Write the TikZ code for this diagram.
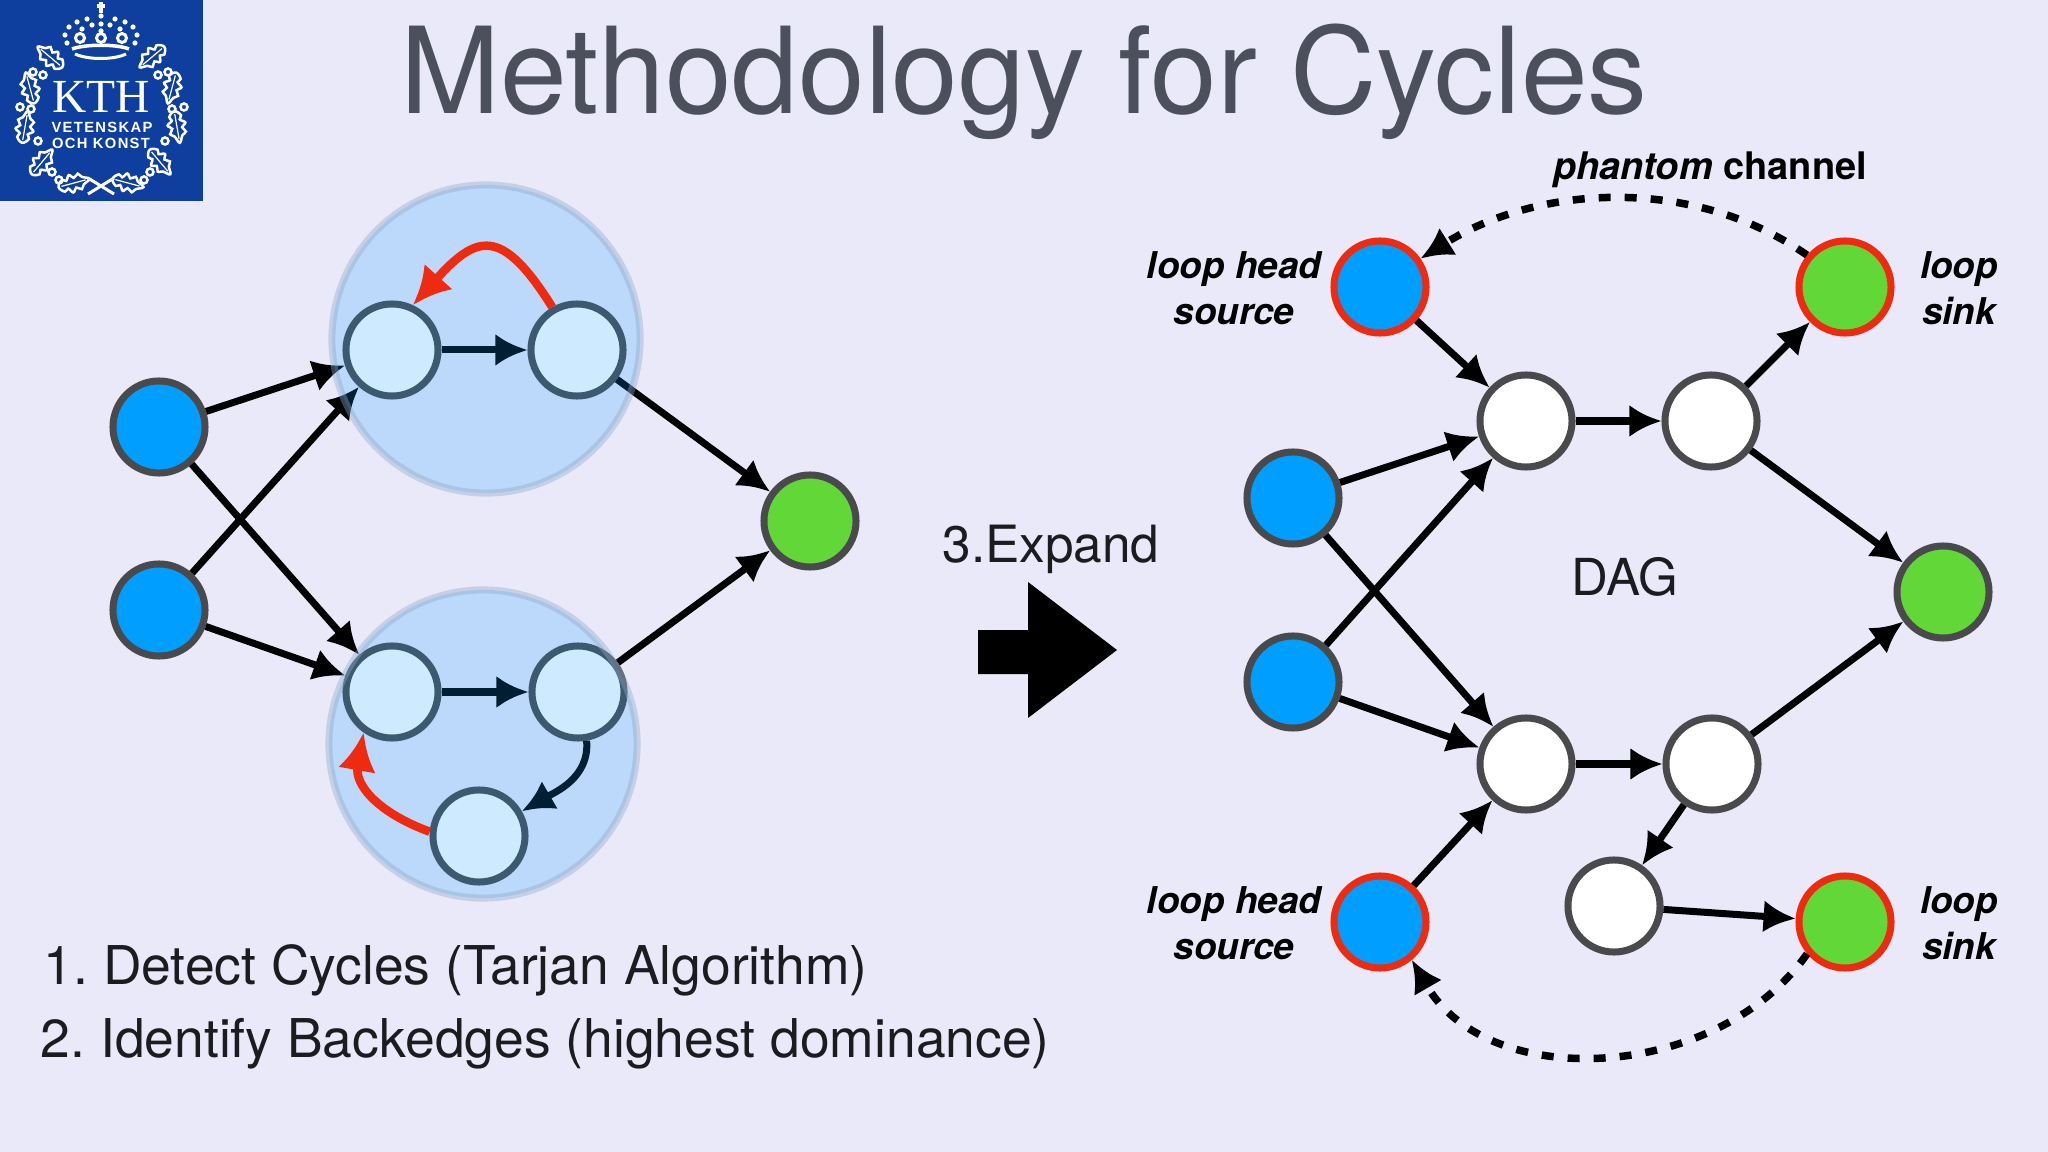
\documentclass[tikz,border=0pt]{standalone}
\usepackage{fontspec}
\setmainfont{TeX Gyre Heros}
\newfontfamily\logoserif{Liberation Serif}
\newfontfamily\logosans[LetterSpace=9]{Liberation Sans}
\usetikzlibrary{arrows.meta}

\definecolor{slidebg}{HTML}{E9E9F9}
\definecolor{kthblue}{HTML}{0F3F9E}
\definecolor{titlegrey}{HTML}{4C505C}
\definecolor{textblack}{HTML}{1C1C20}
\definecolor{nodegrey}{HTML}{4A4A4C}
\definecolor{srcblue}{HTML}{009EFF}
\definecolor{sinkgreen}{HTML}{62D838}
\definecolor{backred}{HTML}{EE2A10}
\definecolor{blobblue}{HTML}{0A96FF}
\definecolor{blobrim}{HTML}{8FA8C8}

\tikzset{
	vertex/.style={circle, minimum size=0.92cm, inner sep=0pt, line width=0.07cm, draw=nodegrey, fill=white},
	source/.style={vertex, fill=srcblue},
	sink/.style={vertex, fill=sinkgreen},
	loopsource/.style={source, draw=backred},
	loopsink/.style={sink, draw=backred},
	edge/.style={->, line width=0.07cm},
	backedge/.style={-{Latex[length=0.38cm,width=0.38cm]}, draw=backred, line width=0.085cm},
	phantom/.style={->, line width=0.075cm, dash pattern=on 0.12cm off 0.14cm},
	scc/.style={circle, minimum size=3.08cm, inner sep=0pt, line width=0.07cm, draw=blobrim, draw opacity=0.4, fill=blobblue, fill opacity=0.2},
	slidetext/.style={text=textblack, font=\fontsize{15.2}{18}\selectfont\frenchspacing, anchor=west, inner sep=0pt},
	looplabel/.style={text=black, font=\fontsize{10.5}{12}\selectfont\bfseries\itshape, inner sep=0pt, text height=8pt, text depth=2.2pt},
	logoline/.style={white, line width=0.012cm},
	leaf/.style={white, line width=0.025cm}
}

\begin{document}
\begin{tikzpicture}[>={Latex[length=0.32cm,width=0.32cm]}, x=0.01cm, y=-0.01cm]

	\fill[slidebg] (0,0) rectangle (2048,1152);

	% logo
	\fill[kthblue] (0,0) rectangle (203,201);
	\node[white, inner sep=0pt, font=\fontsize{13.5}{15}\selectfont\logoserif] (kth) at (101,97) {KTH};
	\node[white, inner sep=0pt, font=\fontsize{4.2}{6}\selectfont\logosans\bfseries] (vetenskap) at (102,127) {VETENSKAP};
	\node[white, inner sep=0pt, font=\fontsize{4.2}{6}\selectfont\logosans\bfseries] (konst) at (101,143) {OCH KONST};
	\foreach \x/\y/\r in {
			128/183/-15,
			160/162/-50,
			177/127/-80,
			172/88/-105,
			152/57/-140,
			74/183/15,
			42/162/50,
			25/127/80,
			30/88/105,
			50/57/140
		} {
			\begin{scope}[shift={(\x,\y)}, rotate=\r]
				\draw[leaf] plot[smooth cycle, tension=0.7] coordinates {
						(-16,0) (-11,-6) (-7,-4) (-3,-9) (1,-5) (6,-8) (9,-4) (16,0)
						(9,4) (6,8) (1,5) (-3,9) (-7,4) (-11,6)
					};
				\draw[logoline] (-13,0) -- (12,0);
			\end{scope}
		}
	\foreach \x/\y in {
			59/180,
			144/180,
			52/172,
			150/172,
			38/141,
			165/141,
			20/107,
			184/107,
			31/109,
			172/109,
			33/72,
			168/72,
			43/75,
			158/75
		} {
			\draw[leaf] (\x,\y) circle (3.5);
		}
	\draw[logoline, line width=0.03cm] (88,178) -- (114,194) (114,178) -- (88,194);
	% crown
	\foreach \x/\y in {
			65/35,
			69/27,
			77/22,
			87/19,
			115/19,
			125/22,
			133/27,
			137/35,
			67/43,
			135/43,
			82/29,
			120/29,
			92/25,
			110/25,
			101/16,
			101/24,
			101/31
		} {
			\fill[white] (\x,\y) circle (2.6);
		}
	\foreach \x in {80,101,122} {
			\draw[leaf, line width=0.03cm] (\x,38) circle (4.5);
		}
	\draw[leaf, line width=0.035cm] (101,2) -- (101,13) (97,6) -- (105,6);
	\draw[leaf, line width=0.035cm] (72,49) .. controls (85,44) and (117,44) .. (129,49);
	\draw[leaf, line width=0.03cm] (75,54) .. controls (88,60) and (114,60) .. (126,54);

	\node[text=titlegrey, inner sep=0pt, font=\fontsize{34.1}{40}\selectfont] (title) at (1024,82) {Methodology for Cycles};

	% left graph
	\node[source] (a1) at (159,427) {};
	\node[source] (a2) at (159,610) {};
	\node[vertex] (c1) at (392,350) {};
	\node[vertex] (c2) at (577,350) {};
	\node[vertex] (c3) at (392,692) {};
	\node[vertex] (c4) at (578,692) {};
	\node[vertex] (c5) at (479,836) {};
	\node[sink] (out) at (810,521) {};

	\draw[edge] (a1) -- (c1);
	\draw[edge] (a1) -- (c3);
	\draw[edge] (a2) -- (c1);
	\draw[edge] (a2) -- (c3);
	\draw[edge] (c1) -- (c2);
	\draw[edge] (c3) -- (c4);
	\draw[edge] (c2) -- (out);
	\draw[edge] (c4) -- (out);
	\draw[edge] (c4.-80) to[out=-85, in=30] (c5.30);

	\node[scc] (scc1) at (486,339) {};
	\node[scc] (scc2) at (483,744) {};

	\draw[backedge] (c2.120) to[out=122, in=48, looseness=1.75] (c1.65);
	\draw[backedge] (c5.175) to[out=160, in=-100, looseness=1.15] (c3.-125);

	\node[slidetext] (step1) at (43,970) {1. Detect Cycles (Tarjan Algorithm)};
	\node[slidetext] (step2) at (40,1044) {2. Identify Backedges (highest dominance)};

	% expand
	\node[text=textblack, inner sep=0pt, font=\fontsize{14.6}{17}\selectfont] (expand) at (1051,549) {3.Expand};
	\fill[black] (978,630) -- (1028,630) -- (1028,582) -- (1117,650) -- (1028,718) -- (1028,674) -- (978,674) -- cycle;

	% right graph
	\node[loopsource] (headtop) at (1380,287) {};
	\node[loopsink] (sinktop) at (1845,287) {};
	\node[vertex] (w1) at (1526,421) {};
	\node[vertex] (w2) at (1711,421) {};
	\node[source] (b1) at (1293,498) {};
	\node[source] (b2) at (1293,682) {};
	\node[vertex] (w3) at (1526,764) {};
	\node[vertex] (w4) at (1712,764) {};
	\node[vertex] (w5) at (1614,906) {};
	\node[loopsource] (headbot) at (1380,922) {};
	\node[loopsink] (sinkbot) at (1845,922) {};
	\node[sink] (dagout) at (1943,592) {};

	\draw[edge] (headtop) -- (w1);
	\draw[edge] (w2) -- (sinktop);
	\draw[edge] (b1) -- (w1);
	\draw[edge] (b1) -- (w3);
	\draw[edge] (b2) -- (w1);
	\draw[edge] (b2) -- (w3);
	\draw[edge] (w1) -- (w2);
	\draw[edge] (w3) -- (w4);
	\draw[edge] (w2) -- (dagout);
	\draw[edge] (w4) -- (dagout);
	\draw[edge] (headbot) -- (w3);
	\draw[edge] (w4) -- (w5);
	\draw[edge] (w5) -- (sinkbot);

	\draw[phantom] (sinktop.140) to[out=145, in=32, looseness=0.92] (headtop.35);
	\draw[phantom] (sinkbot.-140) to[out=-125, in=-60, looseness=1.0] (headbot.-50);

	\node[text=textblack, inner sep=0pt, font=\fontsize{14.5}{17}\selectfont] (dag) at (1625,577) {DAG};

	\node[looplabel] (lh1) at (1234,268) {loop head};
	\node[looplabel] (src1) at (1234,314) {source};
	\node[looplabel] (ls1) at (1959,268) {loop};
	\node[looplabel] (snk1) at (1959,314) {sink};
	\node[looplabel] (lh2) at (1234,903) {loop head};
	\node[looplabel] (src2) at (1234,949) {source};
	\node[looplabel] (ls2) at (1959,903) {loop};
	\node[looplabel] (snk2) at (1959,949) {sink};
	\node[looplabel, font=\fontsize{10.8}{12}\selectfont\bfseries\itshape] (channel) at (1710,169) {phantom {\upshape channel}};

\end{tikzpicture}
\end{document}
